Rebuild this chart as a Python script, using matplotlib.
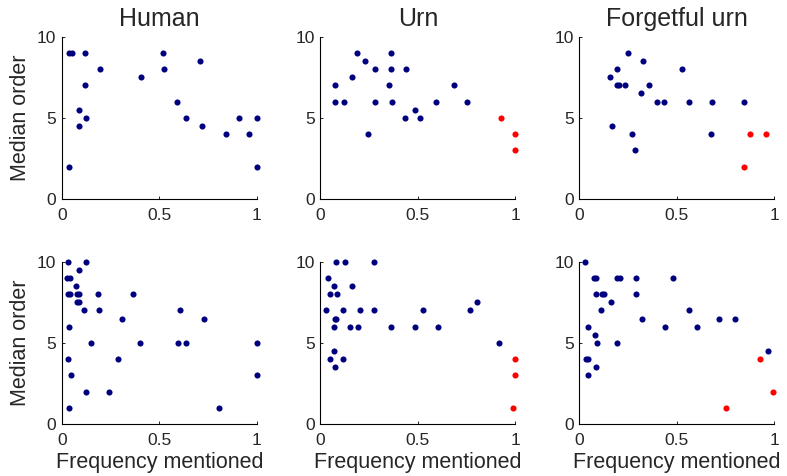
import matplotlib
matplotlib.use("Agg")
import matplotlib.pyplot as plt

titles = ["Human", "Urn", "Forgetful urn"]

# Top row
h1_x = [0.038, 0.05, 0.12, 0.197, 0.12, 0.086, 0.087, 0.125, 0.036, 0.404, 0.519, 0.526,
        0.591, 0.639, 0.709, 0.719, 0.841, 0.909, 0.957, 1.0, 1.0]
h1_y = [9, 9, 9, 8, 7, 5.5, 4.5, 5, 2, 7.5, 9, 8, 6, 5, 8.5, 4.5, 4, 5, 4, 5, 2]

u1_x = [0.077, 0.077, 0.12, 0.164, 0.19, 0.231, 0.245, 0.279, 0.279, 0.353, 0.36, 0.36,
        0.368, 0.437, 0.433, 0.483, 0.51, 0.591, 0.685, 0.753]
u1_y = [7, 6, 6, 7.5, 9, 8.5, 4, 8, 6, 7, 9, 8, 6, 8, 5, 5.5, 5, 6, 7, 6]
u1_rx = [0.926, 1.0, 0.997]
u1_ry = [5, 4, 3]

f1_x = [0.157, 0.193, 0.194, 0.204, 0.235, 0.169, 0.249, 0.271, 0.284, 0.319, 0.327, 0.359,
        0.399, 0.436, 0.525, 0.562, 0.678, 0.675, 0.842]
f1_y = [7.5, 8, 7, 7, 7, 4.5, 9, 4, 3, 6.5, 8.5, 7, 6, 6, 8, 6, 6, 4, 6]
f1_rx = [0.842, 0.876, 0.957]
f1_ry = [2, 4, 4]

# Bottom row
h2_x = [0.031, 0.122, 0.087, 0.027, 0.043, 0.072, 0.031, 0.043, 0.077, 0.089, 0.077, 0.087,
        0.116, 0.038, 0.149, 0.188, 0.192, 0.031, 0.045, 0.036, 0.123, 0.24, 0.286, 0.31,
        0.363, 0.401, 0.604, 0.598, 0.634, 0.728, 0.803, 1.0, 1.0]
h2_y = [10, 10, 9.5, 9, 9, 8.5, 8, 8, 8, 8, 7.5, 7.5, 7, 6, 5, 8, 7, 4, 3, 1, 2, 2, 4, 6.5,
        8, 5, 7, 5, 5, 6.5, 1, 5, 3]

u2_x = [0.08, 0.125, 0.276, 0.039, 0.07, 0.163, 0.048, 0.084, 0.029, 0.116, 0.204, 0.276,
        0.074, 0.082, 0.072, 0.154, 0.193, 0.361, 0.485, 0.601, 0.526, 0.767, 0.801, 0.913,
        0.072, 0.048, 0.115, 0.074]
u2_y = [10, 10, 10, 9, 8.5, 8.5, 8, 8, 7, 7, 7, 7, 6.5, 6.5, 6, 6, 6, 6, 6, 6, 7, 7, 7.5, 5,
        4.5, 4, 4, 3.5]
u2_rx = [1.0, 1.0, 0.988]
u2_ry = [4, 3, 1]

f2_x = [0.031, 0.074, 0.084, 0.192, 0.209, 0.292, 0.479, 0.086, 0.117, 0.125, 0.29, 0.163,
        0.11, 0.561, 0.324, 0.714, 0.799, 0.046, 0.439, 0.604, 0.082, 0.089, 0.194, 0.967,
        0.036, 0.043, 0.087, 0.045]
f2_y = [10, 9, 9, 9, 9, 9, 9, 8, 8, 8, 8, 7.5, 7, 7, 6.5, 6.5, 6.5, 6, 6, 6, 5.5, 5, 5, 4.5,
        4, 4, 3.5, 3]
f2_rx = [0.925, 0.995, 0.753]
f2_ry = [4, 2, 1]

xticks = [0, 0.5, 1]
xticklabels = ["0", "0.5", "1"]
yticks = [0, 5, 10]
yticklabels = ["0", "5", "10"]

plt.rcParams['font.family'] = ['Liberation Sans', 'DejaVu Sans']
navy = "#00007f"
red = "#ff0000"
txt = "#262626"

fig = plt.figure(figsize=(7.87, 4.76), dpi=100)
lefts = [0.0785, 0.407, 0.736]
bottoms = [0.582, 0.109]
w, h = 0.248, 0.341

blue_data = [[(h1_x, h1_y), (u1_x, u1_y), (f1_x, f1_y)],
             [(h2_x, h2_y), (u2_x, u2_y), (f2_x, f2_y)]]
red_data = [[None, (u1_rx, u1_ry), (f1_rx, f1_ry)],
            [None, (u2_rx, u2_ry), (f2_rx, f2_ry)]]

for r in range(2):
    for c in range(3):
        ax = fig.add_axes([lefts[c], bottoms[r], w, h])
        bx, by = blue_data[r][c]
        ax.plot(bx, by, 'o', color=navy, markersize=4.4, markeredgewidth=0, clip_on=False)
        if red_data[r][c] is not None:
            rx, ry = red_data[r][c]
            ax.plot(rx, ry, 'o', color=red, markersize=4.4, markeredgewidth=0, clip_on=False)
        ax.set_xlim(0, 1)
        ax.set_ylim(0, 10)
        ax.set_xticks(xticks)
        ax.set_xticklabels(xticklabels)
        ax.set_yticks(yticks)
        ax.set_yticklabels(yticklabels)
        for s in ['top', 'right']:
            ax.spines[s].set_visible(False)
        for s in ['left', 'bottom']:
            ax.spines[s].set_linewidth(0.8)
            ax.spines[s].set_color('#000000')
        ax.tick_params(direction='in', length=2.5, width=0.6, labelsize=12.5,
                       labelcolor=txt)
        ax.tick_params(axis='x', pad=6.5)
        ax.tick_params(axis='y', pad=4)
        if r == 0:
            ax.set_title(titles[c], fontsize=18, color=txt, pad=8)
        if c == 0:
            ax.set_ylabel("Median order", fontsize=15.5, color=txt, labelpad=4)
        if r == 1:
            ax.set_xlabel("Frequency mentioned", fontsize=15.5, color=txt, labelpad=2.5)

fig.savefig("out.png", dpi=100)
